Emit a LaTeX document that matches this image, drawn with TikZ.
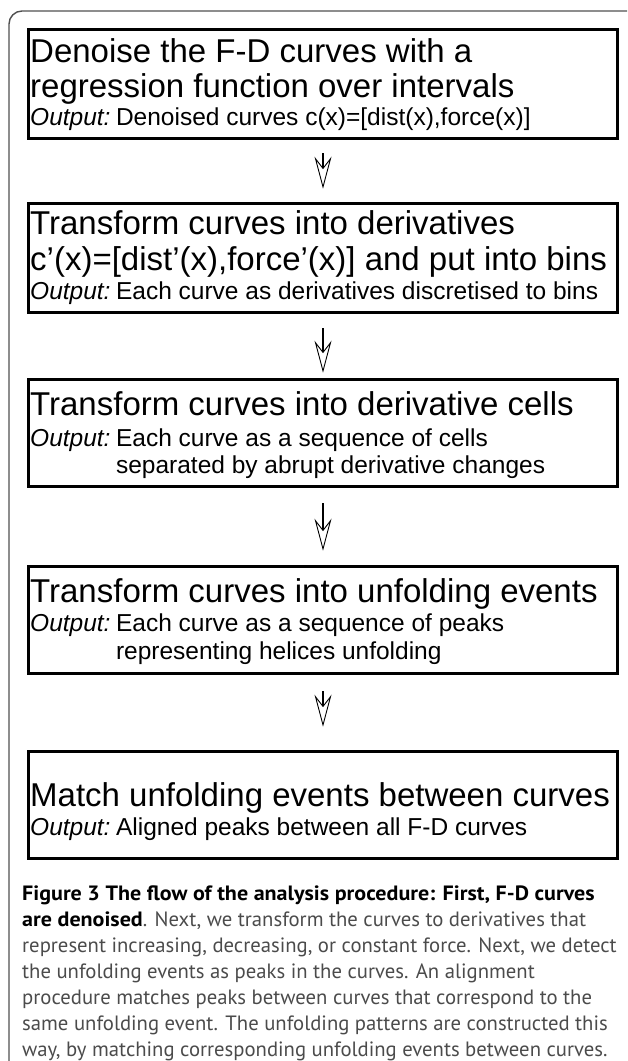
\documentclass[tikz,border=0pt]{standalone}
\usepackage{fontspec}
\setmainfont{Liberation Sans}
\newfontfamily\capfont{PT Sans}
\newfontfamily\capbold{PT Sans Bold}[FakeStretch=1.065]
\usetikzlibrary{arrows.meta}
\definecolor{framegray}{RGB}{80,80,80}
\definecolor{captext}{RGB}{75,75,75}
\tikzset{
  stepbox/.style={draw=black, line width=2.6pt, minimum width=589.4pt, inner sep=0pt},
  headline/.style={anchor=base west, inner sep=0pt, font=\fontsize{33}{33}\selectfont},
  outline/.style={anchor=base west, inner sep=0pt, font=\fontsize{24.5}{24.5}\selectfont},
  capline/.style={anchor=base west, inner sep=0pt, text=captext, font=\capfont\fontsize{20.7}{20.7}\selectfont},
  flowarrow/.style={line width=2pt, -{Stealth[open, length=32pt, width=17pt, inset=11pt, line width=0.9pt]}},
}
\newcommand{\outlabel}{\textit{Output:}\hspace{5.5pt}}
\newcommand{\capstrong}[1]{\textcolor{black}{\capbold #1}}
\begin{document}
\begin{tikzpicture}[x=1pt, y=-1pt]
\useasboundingbox (0,0) rectangle (627,1061);

% outer frame with rounded top-left corner
\draw[framegray, line width=1.4pt, rounded corners=13pt] (9,1061) -- (9,11) -- (627,11);

% processing steps
\node[stepbox, minimum height=109.4pt] (b1) at (323,84) {};
\node[stepbox, minimum height=109.4pt] (b2) at (323,258) {};
\node[stepbox, minimum height=107.4pt] (b3) at (323,433) {};
\node[stepbox, minimum height=107.4pt] (b4) at (323,620) {};
\node[stepbox, minimum height=107.4pt] (b5) at (323,805) {};

% step 1
\node[headline] (t1a) at (30,62) {Denoise the F-D curves with a};
\node[headline] (t1b) at (30,97) {regression function over intervals};
\node[outline]  (o1a) at (30,125) {\outlabel Denoised curves c(x)=[dist(x),force(x)]};

% step 2
\node[headline] (t2a) at (30,234) {Transform curves into derivatives};
\node[headline] (t2b) at (30,270) {c’(x)=[dist’(x),force’(x)] and put into bins};
\node[outline]  (o2a) at (30,299) {\outlabel Each curve as derivatives discretised to bins};

% step 3
\node[headline] (t3a) at (30,415) {Transform curves into derivative cells};
\node[outline]  (o3a) at (30,446) {\outlabel Each curve as a sequence of cells};
\node[outline]  (o3b) at (30,473) {\phantom{\outlabel}separated by abrupt derivative changes};

% step 4
\node[headline] (t4a) at (30,602) {Transform curves into unfolding events};
\node[outline]  (o4a) at (30,631) {\outlabel Each curve as a sequence of peaks};
\node[outline]  (o4b) at (30,659) {\phantom{\outlabel}representing helices unfolding};

% step 5
\node[headline] (t5a) at (30,806) {Match unfolding events between curves};
\node[outline]  (o5a) at (30,835) {\outlabel Aligned peaks between all F-D curves};

% connectors
\draw[flowarrow, shorten <=13.3pt, shorten >=13.3pt] (b1.south) -- (b2.north);
\draw[flowarrow, shorten <=14.3pt, shorten >=5.3pt]  (b2.south) -- (b3.north);
\draw[flowarrow, shorten <=15.3pt, shorten >=14.3pt] (b3.south) -- (b4.north);
\draw[flowarrow, shorten <=16.3pt, shorten >=23.3pt] (b4.south) -- (b5.north);

% caption
\node[capline] (c1) at (22,900) {\capstrong{Figure 3 The flow of the analysis procedure: First, F-D curves}};
\node[capline] (c2) at (22,926) {\capstrong{are denoised}. Next, we transform the curves to derivatives that};
\node[capline] (c3) at (22,952) {represent increasing, decreasing, or constant force. Next, we detect};
\node[capline] (c4) at (22,978) {the unfolding events as peaks in the curves. An alignment};
\node[capline] (c5) at (22,1004) {procedure matches peaks between curves that correspond to the};
\node[capline] (c6) at (22,1030) {same unfolding event. The unfolding patterns are constructed this};
\node[capline] (c7) at (22,1056) {way, by matching corresponding unfolding events between curves.};
\end{tikzpicture}
\end{document}
